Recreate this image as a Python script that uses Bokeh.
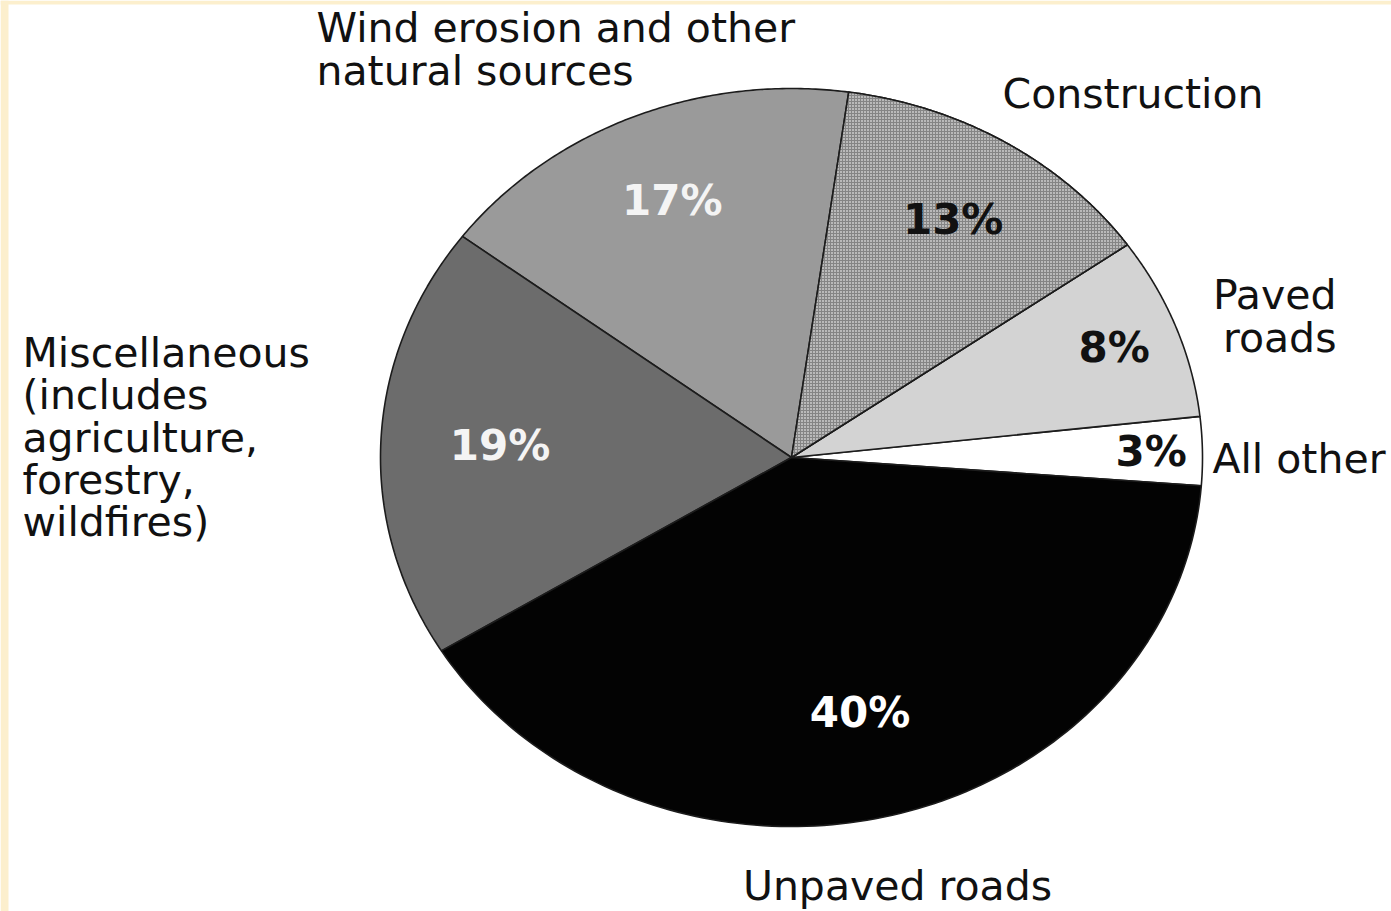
import numpy as np
from bokeh.plotting import figure
from bokeh.models import ColumnDataSource, Range1d
from bokeh.core.properties import value
from bokeh.embed import file_html
from bokeh.resources import INLINE

# ---- data (counter-clockwise order, starting just below 3 o'clock) ----
categories = ["All other", "Paved roads", "Construction",
              "Wind erosion and other natural sources",
              "Miscellaneous (includes agriculture, forestry, wildfires)",
              "Unpaved roads"]
shares = [3, 8, 13, 17, 19, 40]
pct_labels = ["3%", "8%", "13%", "17%", "19%", "40%"]

# ---- style ----
fills = ["#ffffff", "#d3d3d3", "#b4b4b4", "#9a9a9a", "#6c6c6c", "#030303"]
pct_colors = ["#111111", "#111111", "#111111", "#f4f4f4", "#f4f4f4", "#ffffff"]
pct_radius = [0.875, 0.84, 0.755, 0.755, 0.71, 0.71]

W, H = 1391, 911
CX, CY, RX, RY = 791.0, 457.0, 411.0, 369.0
START_DEG = -4.4
FONT = "DejaVu Sans"
CREAM = "#fcefcd"

p = figure(width=W, height=H, output_backend="svg", toolbar_location=None,
           x_range=Range1d(0, W), y_range=Range1d(H, 0),
           min_border=0, min_border_left=0, min_border_right=0,
           min_border_top=0, min_border_bottom=0)
p.axis.visible = False
p.grid.visible = False
p.outline_line_color = None
p.background_fill_color = "white"
p.border_fill_color = "white"

# cream frame on the left and top edges
p.quad(left=[0, 0], right=[8, W], top=[0, 0], bottom=[H, 4],
       fill_color=CREAM, line_color=None)

total = float(sum(shares))
bounds = START_DEG + np.concatenate([[0], np.cumsum(shares)]) / total * 360.0

xs, ys, mx, my = [], [], [], []
for i in range(len(shares)):
    t = np.radians(np.linspace(bounds[i], bounds[i + 1], 120))
    xs.append(np.concatenate([[CX], CX + RX * np.cos(t)]).tolist())
    ys.append(np.concatenate([[CY], CY - RY * np.sin(t)]).tolist())
    m = np.radians((bounds[i] + bounds[i + 1]) / 2)
    mx.append(CX + pct_radius[i] * RX * np.cos(m))
    my.append(CY - pct_radius[i] * RY * np.sin(m))

src = ColumnDataSource(dict(xs=xs, ys=ys, fill=fills, cat=categories))
p.patches("xs", "ys", source=src, fill_color="fill", line_color="#1c1c1c",
          line_width=1.6)

# construction slice texture
ci = categories.index("Construction")
p.patch(xs[ci], ys[ci], fill_color="#bababa", line_color="#1c1c1c", line_width=1.6,
        hatch_pattern="cross", hatch_scale=3, hatch_weight=1, hatch_color="#858585")

# percentages
psrc = ColumnDataSource(dict(x=mx, y=my, t=pct_labels, c=pct_colors))
p.text("x", "y", text="t", source=psrc, text_color="c", text_align="center",
       text_baseline="middle", text_font=value(FONT), text_font_size="42px",
       text_font_style="bold")

# category labels (layout positions)
lab_x = [316, 316, 1002, 1336, 1336, 1385, 22, 22, 22, 22, 22, 897]
lab_y = [27, 70, 93, 294, 337, 458, 352, 394, 437, 479, 521, 885]
lab_t = ["Wind erosion and other", "natural sources", "Construction",
         "Paved", "roads", "All other",
         "Miscellaneous", "(includes", "agriculture,", "forestry,", "wildfires)",
         "Unpaved roads"]
lab_a = ["left", "left", "left", "right", "right", "right",
         "left", "left", "left", "left", "left", "center"]
lsrc = ColumnDataSource(dict(x=lab_x, y=lab_y, t=lab_t, a=lab_a))
p.text("x", "y", text="t", source=lsrc, text_align="a", text_baseline="middle",
       text_color="#111111", text_font=value(FONT), text_font_size="41px")

open("out.html", "w").write(file_html(p, INLINE))
